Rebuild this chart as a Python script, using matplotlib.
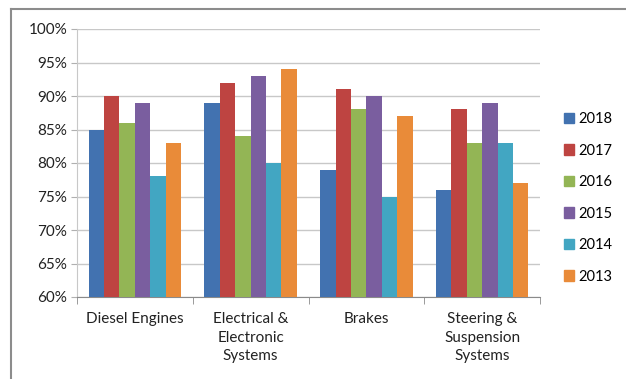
import matplotlib
matplotlib.use("Agg")
import matplotlib.pyplot as plt
from matplotlib.lines import Line2D
from matplotlib.ticker import PercentFormatter
import numpy as np

plt.rcParams['font.family'] = ['Lato', 'DejaVu Sans']

categories = ["Diesel Engines", "Electrical &\nElectronic\nSystems", "Brakes",
              "Steering &\nSuspension\nSystems"]
years = ["2018", "2017", "2016", "2015", "2014", "2013"]
values = {
    "2018": [85, 89, 79, 76],
    "2017": [90, 92, 91, 88],
    "2016": [86, 84, 88, 83],
    "2015": [89, 93, 90, 89],
    "2014": [78, 80, 75, 83],
    "2013": [83, 94, 87, 77],
}
colors = ["#4272B0", "#BE4441", "#93B555", "#7A5E9F", "#42A6C2", "#E98B39"]

fig = plt.figure(figsize=(6.26, 3.79), dpi=100)
ax = fig.add_axes([77 / 626, 1 - 297 / 379, (540 - 77) / 626, (297 - 29) / 379])

x = np.arange(len(categories))
group = 0.8
w = group / len(years)
for i, (yr, c) in enumerate(zip(years, colors)):
    ax.bar(x - group / 2 + w * (i + 0.5), values[yr], width=w, color=c,
           label=yr, zorder=3)

ax.set_ylim(60, 100)
ax.set_yticks(np.arange(60, 101, 5))
ax.yaxis.set_major_formatter(PercentFormatter(decimals=0))
ax.set_xlim(-0.5, len(categories) - 0.5)
ax.set_xticks(x)
ax.set_xticklabels(categories, fontsize=11, color="#222222", linespacing=1.4)
ax.set_xticks(np.arange(-0.5, len(categories), 1), minor=True)
ax.tick_params(axis="x", which="major", length=0, pad=11)
ax.tick_params(axis="x", which="minor", length=5, color="#8a8a8a")
ax.tick_params(axis="y", length=4, color="#b0b0b0", labelsize=11,
               labelcolor="#222222", pad=3)
ax.grid(axis="y", color="#c8c8c8", linewidth=1, zorder=0)
for s in ["top", "right"]:
    ax.spines[s].set_visible(False)
ax.spines["left"].set_color("#c8c8c8")
ax.spines["bottom"].set_color("#8a8a8a")

handles = [plt.Rectangle((0, 0), 1, 1, color=c) for c in colors]
fig.legend(handles, years, loc="center left", bbox_to_anchor=(564 / 626, 0.478),
           frameon=False, fontsize=10.5, handlelength=0.7, handleheight=0.7,
           handletextpad=0.3, labelspacing=1.2, borderaxespad=0, borderpad=0)

# chart frame along the top and left edges
fig.add_artist(Line2D([11 / 626, 11 / 626], [0, 1 - 9 / 379], transform=fig.transFigure,
                      color="#8c8c8c", linewidth=1.5))
fig.add_artist(Line2D([11 / 626, 1], [1 - 9 / 379, 1 - 9 / 379], transform=fig.transFigure,
                      color="#8c8c8c", linewidth=1.5))

fig.savefig("out.png", dpi=100)
